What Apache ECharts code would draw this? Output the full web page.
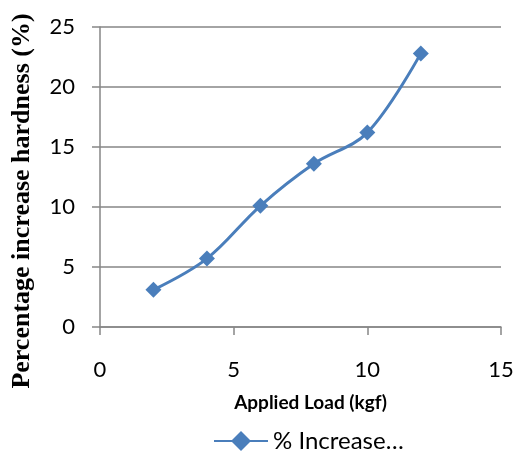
<!DOCTYPE html>
<html><head><meta charset="utf-8">
<script src="https://cdn.jsdelivr.net/npm/echarts@6/dist/echarts.min.js"></script>
<style>html,body{margin:0;padding:0;background:#fff}#c{width:515px;height:457px}</style>
</head><body><div id="c"></div>
<script>
const loads = [2, 4, 6, 8, 10, 12];
const increase = [3.1, 5.7, 10.1, 13.6, 16.2, 22.8];
const seriesName = '% Increase…';
const xTitle = 'Applied Load (kgf)';
const yTitle = 'Percentage increase hardness (%)';

const chart = echarts.init(document.getElementById('c'));
const gray = '#868686';
chart.setOption({
  animation: false,
  grid: {left: 100, right: 14, top: 27, bottom: 130, containLabel: false, outerBoundsMode: 'none'},
  graphic: [{
    type: 'text', x: 22, y: 201, rotation: Math.PI / 2,
    style: {text: yTitle, fontFamily: 'Liberation Serif', fontWeight: 'bold', fontSize: 26,
      fill: '#000', align: 'center', verticalAlign: 'middle'}
  }],
  xAxis: {
    type: 'value', min: 0, max: 15, interval: 5,
    name: xTitle, nameLocation: 'middle', nameGap: 66,
    nameTextStyle: {fontFamily: 'Lato', fontWeight: 'bold', fontSize: 19, color: '#000', padding: [0,0,0,20]},
    axisLine: {show: true, lineStyle: {color: gray, width: 1.5}},
    axisTick: {show: true, length: 8, lineStyle: {color: gray, width: 1.5}},
    axisLabel: {fontFamily: 'Lato', fontSize: 22, color: '#000', margin: 32},
    splitLine: {show: false}
  },
  yAxis: {
    type: 'value', min: 0, max: 25, interval: 5,
    axisLine: {show: true, lineStyle: {color: gray, width: 1.5}},
    axisTick: {show: true, length: 8, lineStyle: {color: gray, width: 1.5}},
    axisLabel: {fontFamily: 'Lato', fontSize: 22, color: '#000', margin: 25},
    splitLine: {show: true, lineStyle: {color: gray, width: 1.5}}
  },
  legend: {
    bottom: -1, left: 208,
    itemWidth: 54, itemHeight: 25, itemGap: 4,
    textStyle: {fontFamily: 'Lato', fontSize: 24, color: '#000'},
    data: [seriesName]
  },
  series: [{
    name: seriesName, type: 'line', smooth: 0.35,
    data: loads.map((x, i) => [x, increase[i]]),
    symbol: 'diamond', symbolSize: 16,
    lineStyle: {color: '#4a7ebb', width: 3},
    itemStyle: {color: '#4a7ebb'}
  }]
});
</script></body></html>
